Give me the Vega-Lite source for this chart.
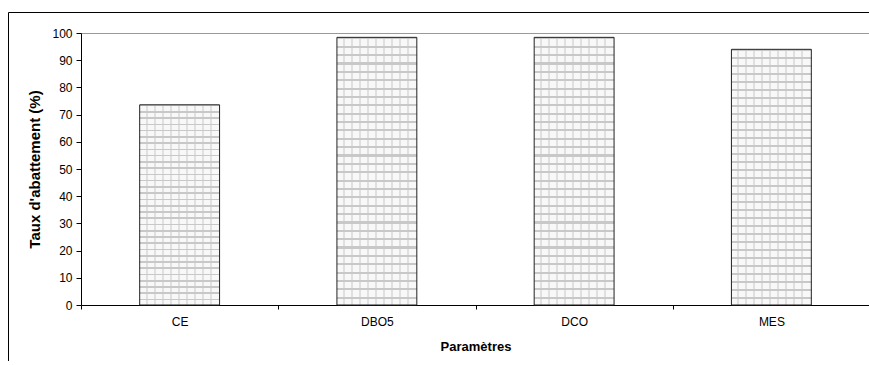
{
  "$schema": "https://vega.github.io/schema/vega-lite/v6.json",
  "width": 862,
  "height": 349,
  "autosize": {"type": "none"},
  "padding": {"left": 8, "top": 12, "right": -1, "bottom": 0},
  "background": "white",
  "config": {
    "view": {"stroke": "black", "strokeWidth": 1, "strokeDash": [862, 1211, 349, 0]},
    "font": "Liberation Sans"
  },
  "data": {
    "values": [
      {"parametre": "CE", "taux": 73.6},
      {"parametre": "DBO5", "taux": 98.4},
      {"parametre": "DCO", "taux": 98.4},
      {"parametre": "MES", "taux": 94.0}
    ]
  },
  "encoding": {
    "x": {
      "field": "parametre",
      "type": "nominal",
      "sort": null,
      "scale": {"range": [73, 862], "paddingInner": 0, "paddingOuter": 0},
      "axis": {
        "title": "Paramètres",
        "labelAngle": 0,
        "offset": -56,
        "tickBand": "extent",
        "tickSize": 4,
        "domainColor": "black",
        "tickColor": "black",
        "labelColor": "black",
        "titleColor": "black",
        "labelPadding": 7,
        "labelFontSize": 12,
        "titleFontSize": 13,
        "titleFontWeight": "bold",
        "titlePadding": 13,
        "grid": false
      }
    },
    "y": {
      "field": "taux",
      "type": "quantitative",
      "scale": {"domain": [0, 100], "range": [293, 21], "nice": false},
      "axis": {
        "title": "Taux d'abattement (%)",
        "offset": -73,
        "values": [0, 10, 20, 30, 40, 50, 60, 70, 80, 90, 100],
        "tickSize": 5,
        "domainColor": "black",
        "tickColor": "black",
        "labelColor": "black",
        "titleColor": "black",
        "labelPadding": 4,
        "labelFontSize": 12,
        "titleFontSize": 15,
        "titleFontWeight": "bold",
        "titlePadding": 9,
        "grid": true,
        "gridColor": "#999999",
        "gridWidth": 1,
        "gridOpacity": {"condition": {"test": "datum.value === 100", "value": 1}, "value": 0}
      }
    }
  },
  "layer": [
    {
      "mark": {
        "type": "bar",
        "width": {"band": 0.405},
        "strokeWidth": 0,
        "fill": {
          "gradient": "linear", "x1": 0, "y1": 0, "x2": 0, "y2": 1,
          "stops": [
            {"offset": 0, "color": "#c8c8c8"}, {"offset": 0.008, "color": "#c8c8c8"}, {"offset": 0.008, "color": "#f8f8f8"},
            {"offset": 0.03125, "color": "#f8f8f8"}, {"offset": 0.03125, "color": "#c8c8c8"}, {"offset": 0.03925, "color": "#c8c8c8"}, {"offset": 0.03925, "color": "#f8f8f8"},
            {"offset": 0.0625, "color": "#f8f8f8"}, {"offset": 0.0625, "color": "#c8c8c8"}, {"offset": 0.0705, "color": "#c8c8c8"}, {"offset": 0.0705, "color": "#f8f8f8"},
            {"offset": 0.09375, "color": "#f8f8f8"}, {"offset": 0.09375, "color": "#c8c8c8"}, {"offset": 0.10175, "color": "#c8c8c8"}, {"offset": 0.10175, "color": "#f8f8f8"},
            {"offset": 0.125, "color": "#f8f8f8"}, {"offset": 0.125, "color": "#c8c8c8"}, {"offset": 0.133, "color": "#c8c8c8"}, {"offset": 0.133, "color": "#f8f8f8"},
            {"offset": 0.15625, "color": "#f8f8f8"}, {"offset": 0.15625, "color": "#c8c8c8"}, {"offset": 0.16425, "color": "#c8c8c8"}, {"offset": 0.16425, "color": "#f8f8f8"},
            {"offset": 0.1875, "color": "#f8f8f8"}, {"offset": 0.1875, "color": "#c8c8c8"}, {"offset": 0.1955, "color": "#c8c8c8"}, {"offset": 0.1955, "color": "#f8f8f8"},
            {"offset": 0.21875, "color": "#f8f8f8"}, {"offset": 0.21875, "color": "#c8c8c8"}, {"offset": 0.22675, "color": "#c8c8c8"}, {"offset": 0.22675, "color": "#f8f8f8"},
            {"offset": 0.25, "color": "#f8f8f8"}, {"offset": 0.25, "color": "#c8c8c8"}, {"offset": 0.258, "color": "#c8c8c8"}, {"offset": 0.258, "color": "#f8f8f8"},
            {"offset": 0.28125, "color": "#f8f8f8"}, {"offset": 0.28125, "color": "#c8c8c8"}, {"offset": 0.28925, "color": "#c8c8c8"}, {"offset": 0.28925, "color": "#f8f8f8"},
            {"offset": 0.3125, "color": "#f8f8f8"}, {"offset": 0.3125, "color": "#c8c8c8"}, {"offset": 0.3205, "color": "#c8c8c8"}, {"offset": 0.3205, "color": "#f8f8f8"},
            {"offset": 0.34375, "color": "#f8f8f8"}, {"offset": 0.34375, "color": "#c8c8c8"}, {"offset": 0.35175, "color": "#c8c8c8"}, {"offset": 0.35175, "color": "#f8f8f8"},
            {"offset": 0.375, "color": "#f8f8f8"}, {"offset": 0.375, "color": "#c8c8c8"}, {"offset": 0.383, "color": "#c8c8c8"}, {"offset": 0.383, "color": "#f8f8f8"},
            {"offset": 0.40625, "color": "#f8f8f8"}, {"offset": 0.40625, "color": "#c8c8c8"}, {"offset": 0.41425, "color": "#c8c8c8"}, {"offset": 0.41425, "color": "#f8f8f8"},
            {"offset": 0.4375, "color": "#f8f8f8"}, {"offset": 0.4375, "color": "#c8c8c8"}, {"offset": 0.4455, "color": "#c8c8c8"}, {"offset": 0.4455, "color": "#f8f8f8"},
            {"offset": 0.46875, "color": "#f8f8f8"}, {"offset": 0.46875, "color": "#c8c8c8"}, {"offset": 0.47675, "color": "#c8c8c8"}, {"offset": 0.47675, "color": "#f8f8f8"},
            {"offset": 0.5, "color": "#f8f8f8"}, {"offset": 0.5, "color": "#c8c8c8"}, {"offset": 0.508, "color": "#c8c8c8"}, {"offset": 0.508, "color": "#f8f8f8"},
            {"offset": 0.53125, "color": "#f8f8f8"}, {"offset": 0.53125, "color": "#c8c8c8"}, {"offset": 0.53925, "color": "#c8c8c8"}, {"offset": 0.53925, "color": "#f8f8f8"},
            {"offset": 0.5625, "color": "#f8f8f8"}, {"offset": 0.5625, "color": "#c8c8c8"}, {"offset": 0.5705, "color": "#c8c8c8"}, {"offset": 0.5705, "color": "#f8f8f8"},
            {"offset": 0.59375, "color": "#f8f8f8"}, {"offset": 0.59375, "color": "#c8c8c8"}, {"offset": 0.60175, "color": "#c8c8c8"}, {"offset": 0.60175, "color": "#f8f8f8"},
            {"offset": 0.625, "color": "#f8f8f8"}, {"offset": 0.625, "color": "#c8c8c8"}, {"offset": 0.633, "color": "#c8c8c8"}, {"offset": 0.633, "color": "#f8f8f8"},
            {"offset": 0.65625, "color": "#f8f8f8"}, {"offset": 0.65625, "color": "#c8c8c8"}, {"offset": 0.66425, "color": "#c8c8c8"}, {"offset": 0.66425, "color": "#f8f8f8"},
            {"offset": 0.6875, "color": "#f8f8f8"}, {"offset": 0.6875, "color": "#c8c8c8"}, {"offset": 0.6955, "color": "#c8c8c8"}, {"offset": 0.6955, "color": "#f8f8f8"},
            {"offset": 0.71875, "color": "#f8f8f8"}, {"offset": 0.71875, "color": "#c8c8c8"}, {"offset": 0.72675, "color": "#c8c8c8"}, {"offset": 0.72675, "color": "#f8f8f8"},
            {"offset": 0.75, "color": "#f8f8f8"}, {"offset": 0.75, "color": "#c8c8c8"}, {"offset": 0.758, "color": "#c8c8c8"}, {"offset": 0.758, "color": "#f8f8f8"},
            {"offset": 0.78125, "color": "#f8f8f8"}, {"offset": 0.78125, "color": "#c8c8c8"}, {"offset": 0.78925, "color": "#c8c8c8"}, {"offset": 0.78925, "color": "#f8f8f8"},
            {"offset": 0.8125, "color": "#f8f8f8"}, {"offset": 0.8125, "color": "#c8c8c8"}, {"offset": 0.8205, "color": "#c8c8c8"}, {"offset": 0.8205, "color": "#f8f8f8"},
            {"offset": 0.84375, "color": "#f8f8f8"}, {"offset": 0.84375, "color": "#c8c8c8"}, {"offset": 0.85175, "color": "#c8c8c8"}, {"offset": 0.85175, "color": "#f8f8f8"},
            {"offset": 0.875, "color": "#f8f8f8"}, {"offset": 0.875, "color": "#c8c8c8"}, {"offset": 0.883, "color": "#c8c8c8"}, {"offset": 0.883, "color": "#f8f8f8"},
            {"offset": 0.90625, "color": "#f8f8f8"}, {"offset": 0.90625, "color": "#c8c8c8"}, {"offset": 0.91425, "color": "#c8c8c8"}, {"offset": 0.91425, "color": "#f8f8f8"},
            {"offset": 0.9375, "color": "#f8f8f8"}, {"offset": 0.9375, "color": "#c8c8c8"}, {"offset": 0.9455, "color": "#c8c8c8"}, {"offset": 0.9455, "color": "#f8f8f8"},
            {"offset": 0.96875, "color": "#f8f8f8"}, {"offset": 0.96875, "color": "#c8c8c8"}, {"offset": 0.97675, "color": "#c8c8c8"}, {"offset": 0.97675, "color": "#f8f8f8"},
            {"offset": 1, "color": "#f8f8f8"}
          ]
        }
      }
    },
    {
      "mark": {
        "type": "bar",
        "width": {"band": 0.405},
        "stroke": "#222222",
        "strokeWidth": 1,
        "fill": {
          "gradient": "linear", "x1": 0, "y1": 0, "x2": 1, "y2": 0,
          "stops": [
            {"offset": 0, "color": "rgba(255,255,255,0)"},
            {"offset": 0.075, "color": "rgba(255,255,255,0)"}, {"offset": 0.075, "color": "rgba(200,200,200,0.5)"}, {"offset": 0.1, "color": "rgba(200,200,200,0.5)"}, {"offset": 0.1, "color": "rgba(255,255,255,0)"},
            {"offset": 0.175, "color": "rgba(255,255,255,0)"}, {"offset": 0.175, "color": "rgba(200,200,200,0.5)"}, {"offset": 0.2, "color": "rgba(200,200,200,0.5)"}, {"offset": 0.2, "color": "rgba(255,255,255,0)"},
            {"offset": 0.275, "color": "rgba(255,255,255,0)"}, {"offset": 0.275, "color": "rgba(200,200,200,0.5)"}, {"offset": 0.3, "color": "rgba(200,200,200,0.5)"}, {"offset": 0.3, "color": "rgba(255,255,255,0)"},
            {"offset": 0.375, "color": "rgba(255,255,255,0)"}, {"offset": 0.375, "color": "rgba(200,200,200,0.5)"}, {"offset": 0.4, "color": "rgba(200,200,200,0.5)"}, {"offset": 0.4, "color": "rgba(255,255,255,0)"},
            {"offset": 0.475, "color": "rgba(255,255,255,0)"}, {"offset": 0.475, "color": "rgba(200,200,200,0.5)"}, {"offset": 0.5, "color": "rgba(200,200,200,0.5)"}, {"offset": 0.5, "color": "rgba(255,255,255,0)"},
            {"offset": 0.575, "color": "rgba(255,255,255,0)"}, {"offset": 0.575, "color": "rgba(200,200,200,0.5)"}, {"offset": 0.6, "color": "rgba(200,200,200,0.5)"}, {"offset": 0.6, "color": "rgba(255,255,255,0)"},
            {"offset": 0.675, "color": "rgba(255,255,255,0)"}, {"offset": 0.675, "color": "rgba(200,200,200,0.5)"}, {"offset": 0.7, "color": "rgba(200,200,200,0.5)"}, {"offset": 0.7, "color": "rgba(255,255,255,0)"},
            {"offset": 0.775, "color": "rgba(255,255,255,0)"}, {"offset": 0.775, "color": "rgba(200,200,200,0.5)"}, {"offset": 0.8, "color": "rgba(200,200,200,0.5)"}, {"offset": 0.8, "color": "rgba(255,255,255,0)"},
            {"offset": 0.875, "color": "rgba(255,255,255,0)"}, {"offset": 0.875, "color": "rgba(200,200,200,0.5)"}, {"offset": 0.9, "color": "rgba(200,200,200,0.5)"}, {"offset": 0.9, "color": "rgba(255,255,255,0)"},
            {"offset": 1, "color": "rgba(255,255,255,0)"}
          ]
        }
      }
    }
  ]
}
